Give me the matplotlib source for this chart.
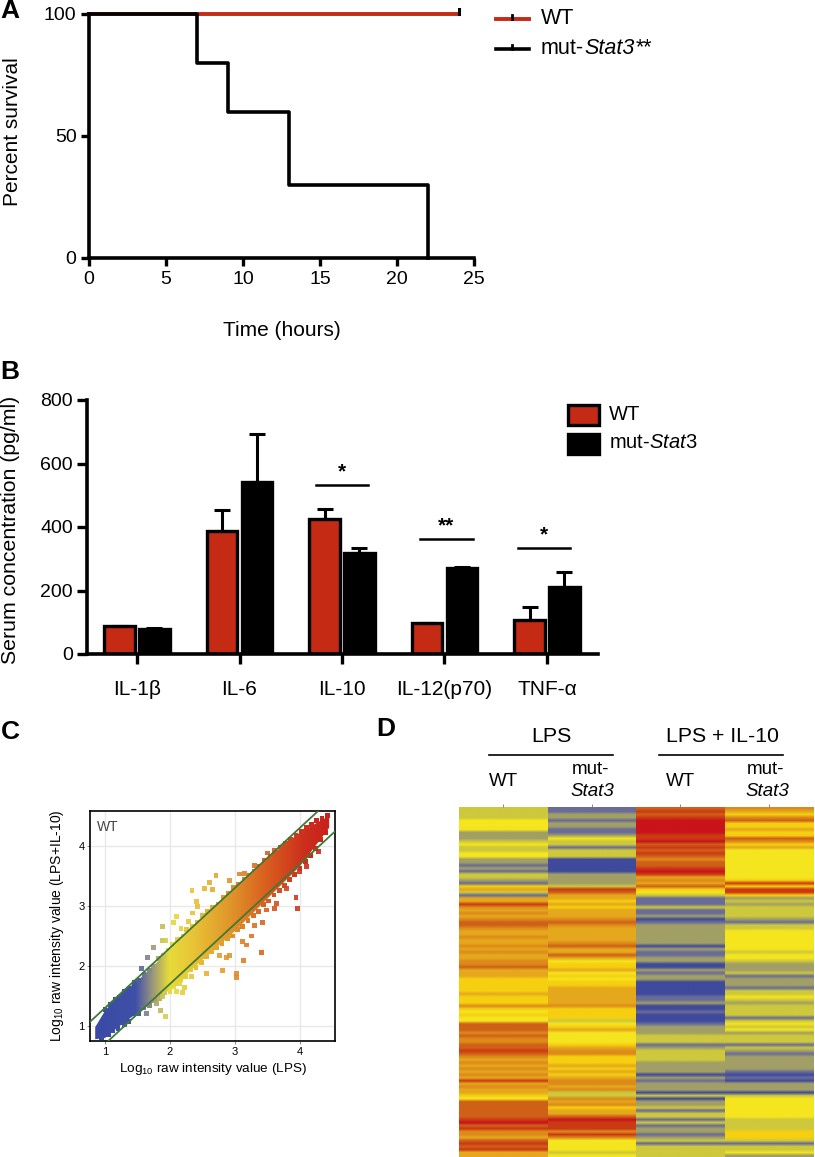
import numpy as np
import matplotlib
matplotlib.use("Agg")
import matplotlib.pyplot as plt
from matplotlib.colors import ListedColormap, LinearSegmentedColormap, Normalize
from matplotlib.patches import Polygon

plt.rcParams['font.family'] = ['Liberation Sans', 'DejaVu Sans']
plt.rcParams['mathtext.fontset'] = 'custom'
plt.rcParams['mathtext.rm'] = 'Liberation Sans'
plt.rcParams['mathtext.it'] = 'Liberation Sans:italic'
plt.rcParams['mathtext.default'] = 'regular'

W, H = 815, 1157
RED = '#c42a14'

# Panel A data
wt_time = [0, 24]
wt_surv = [100, 100]
mut_time = [0, 7, 9, 13, 22]
mut_surv = [100, 80, 60, 30, 0]

# Panel B data
cytokines = ['IL-1β', 'IL-6', 'IL-10', 'IL-12(p70)', 'TNF-α']
wt_conc = [87, 388, 426, 97, 108]
wt_err = [2, 64, 30, 2, 39]
mut_conc = [80, 543, 318, 270, 212]
mut_err = [2, 149, 17, 3, 45]
sig_pos = [2, 3.02, 3.97]
sig_height = [533, 362, 334]
sig_mark = ['*', '**', '*']

# Panel C data: edges of the dense cloud, then points on its rim, then strays
cloud_x = [0.85, 1.0, 1.2, 1.5, 2.0, 2.5, 3.0, 3.5, 4.0, 4.45]
cloud_lo = [0.78, 0.80, 0.98, 1.22, 1.60, 2.10, 2.58, 3.12, 3.66, 4.30]
cloud_hi = [0.98, 1.25, 1.50, 1.75, 2.27, 2.80, 3.30, 3.80, 4.22, 4.50]
rim_top_x = [1.0, 1.08, 1.16, 1.22, 1.3, 1.38, 1.45, 1.52, 1.6, 1.68, 1.74, 1.82, 1.9, 1.98, 2.04,
             2.12, 2.2, 2.26, 2.34, 2.42, 2.5, 2.58, 2.66, 2.74, 2.82, 2.9, 2.98, 3.06, 3.14, 3.22,
             3.3, 3.38, 3.46, 3.54, 3.62, 3.7, 3.78, 3.86, 3.94, 4.02, 4.1, 4.18, 4.26, 4.34, 4.42]
rim_top_y = [1.28, 1.36, 1.44, 1.48, 1.58, 1.62, 1.72, 1.76, 1.86, 1.92, 2.0, 2.12, 2.18, 2.26, 2.36,
             2.44, 2.5, 2.6, 2.66, 2.72, 2.84, 2.9, 2.98, 3.02, 3.14, 3.2, 3.3, 3.36, 3.44, 3.5,
             3.58, 3.66, 3.76, 3.82, 3.86, 3.98, 4.04, 4.1, 4.18, 4.24, 4.3, 4.36, 4.42, 4.46, 4.5]
rim_low_x = [0.95, 1.05, 1.12, 1.2, 1.28, 1.36, 1.44, 1.52, 1.6, 1.68, 1.76, 1.84, 1.92, 2.0, 2.08,
             2.16, 2.24, 2.32, 2.4, 2.48, 2.56, 2.64, 2.72, 2.8, 2.88, 2.96, 3.04, 3.12, 3.2, 3.28,
             3.36, 3.44, 3.52, 3.6, 3.68, 3.76, 3.84, 3.92, 4.0, 4.08, 4.16, 4.24, 4.32, 4.4]
rim_low_y = [0.8, 0.86, 0.92, 0.96, 1.06, 1.08, 1.2, 1.2, 1.3, 1.34, 1.42, 1.46, 1.56, 1.58, 1.7,
             1.78, 1.82, 1.94, 1.98, 2.06, 2.16, 2.24, 2.3, 2.38, 2.46, 2.5, 2.6, 2.66, 2.76, 2.84,
             2.9, 3.02, 3.08, 3.18, 3.26, 3.34, 3.44, 3.52, 3.62, 3.74, 3.84, 3.96, 4.1, 4.22]
stray_x = [2.71, 2.61, 2.53, 2.34, 2.66, 2.41, 2.43, 2.35, 2.10, 2.05, 1.88, 2.28, 2.17, 1.89,
           1.94, 1.75, 1.66, 1.56, 2.92, 3.07, 3.15, 3.30, 3.50, 3.61, 3.79, 1.93, 1.86, 1.79,
           2.19, 2.10, 2.23, 2.56, 2.33, 2.81, 3.03, 3.03, 3.13, 3.41, 2.87, 2.76, 2.92, 3.12,
           3.18, 3.25, 3.30, 3.42, 3.61, 3.64, 3.96, 3.94, 4.10, 4.29, 3.99, 3.79, 3.48, 2.71,
           2.56, 2.46, 2.15, 2.05, 1.89, 1.64, 1.30]
stray_y = [3.50, 3.39, 3.29, 3.26, 3.27, 3.07, 2.99, 2.88, 2.82, 2.72, 2.66, 2.74, 2.63, 2.43,
           2.43, 2.31, 2.14, 1.96, 3.42, 3.53, 3.54, 3.67, 3.88, 3.92, 4.02, 1.16, 1.26, 1.38,
           1.56, 1.57, 1.64, 1.87, 1.82, 1.93, 1.87, 1.81, 2.09, 2.22, 2.14, 2.17, 2.17, 2.41,
           2.35, 2.50, 2.67, 2.72, 2.96, 3.04, 2.96, 3.14, 3.66, 3.91, 3.57, 3.29, 2.93, 2.32,
           2.21, 2.10, 1.71, 1.66, 1.49, 1.21, 1.02]
fold_x = [0.7, 4.6]
fold_up = [1.0, 4.9]
fold_dn = [0.4, 4.3]

# Panel D data: colour level per row, blue (0) to red (10)
lps_wt = [3, 3, 3, 3, 4, 4, 4, 4, 2, 2,
          2, 3, 4, 3, 3, 4, 4, 2, 2, 1,
          2, 1, 3, 3, 2, 1, 5, 6, 3, 1,
          6, 6, 9, 7, 6, 7, 6, 7, 8, 8, 7, 6, 6, 7, 6,
          6, 7, 6, 7, 6, 6, 7, 7, 8, 6, 6, 6,
          5, 5, 5, 5, 5, 6, 5, 5, 5, 7, 5, 4, 5, 4, 4,
          8, 8, 8, 7, 8, 7, 7, 8, 8, 9, 8, 7, 6, 7, 6, 7, 6, 7, 6, 9, 6, 7, 6, 6, 5, 4,
          8, 8, 8, 8, 8, 8, 9, 10, 8, 9, 7, 7, 6, 8, 9, 8, 9, 6, 6]
lps_mut = [1, 1, 2, 2, 1, 2, 2, 1, 1, 2,
           4, 3, 3, 1, 3, 3, 3, 0, 0, 0,
           0, 0, 2, 2, 2, 2, 3, 9, 8, 6,
           6, 5, 6, 5, 6, 6, 6, 7, 8, 7, 6, 6, 6, 6, 6,
           7, 8, 6, 6, 8, 6, 4, 5, 5, 6, 4, 5,
           4, 5, 5, 6, 6, 6, 6, 6, 6, 7, 5, 5, 5, 5, 3,
           4, 5, 6, 4, 4, 4, 4, 5, 6, 7, 7, 5, 5, 5, 6, 5, 6, 5, 6, 7, 7, 6, 7, 3, 3, 7,
           6, 7, 5, 6, 6, 8, 10, 9, 9, 9, 7, 9, 7, 4, 4, 4, 4, 3, 4]
il10_wt = [8, 9, 8, 9, 10, 10, 10, 10, 10, 9,
           9, 10, 8, 9, 8, 9, 8, 7, 8, 8,
           9, 10, 9, 6, 7, 6, 8, 5, 4, 3,
           1, 1, 1, 3, 1, 1, 2, 0, 1, 2, 2, 2, 2, 2, 2,
           2, 0, 2, 1, 1, 2, 2, 0, 0, 2, 1, 2,
           2, 0, 0, 0, 0, 0, 1, 1, 2, 0, 0, 1, 0, 0, 0,
           1, 2, 2, 2, 3, 3, 3, 1, 2, 3, 3, 3, 3, 2, 2, 2, 2, 0, 2, 1, 2, 2, 2, 0, 3, 0,
           2, 2, 3, 1, 3, 3, 1, 3, 1, 2, 2, 1, 2, 3, 1, 3, 3, 3, 3]
il10_mut = [7, 6, 5, 7, 8, 5, 5, 6, 5, 5,
            8, 7, 5, 6, 4, 4, 4, 4, 4, 4,
            4, 4, 4, 4, 5, 9, 5, 9, 9, 5,
            2, 3, 2, 3, 3, 3, 3, 2, 1, 3, 3, 4, 4, 4, 4,
            4, 4, 4, 3, 4, 4, 3, 2, 2, 2, 3, 1,
            2, 2, 2, 1, 3, 3, 4, 3, 2, 3, 3, 3, 3, 1, 3,
            4, 3, 4, 2, 3, 3, 3, 1, 3, 2, 1, 2, 2, 2, 2, 2, 1, 0, 1, 0, 2, 2, 2, 0, 3, 4,
            4, 4, 4, 4, 4, 4, 3, 3, 3, 3, 5, 5, 5, 3, 1, 3, 3, 4, 2]
heat_levels = ['#3f4a9c', '#6a6c98', '#a19f66', '#cdc83c', '#f5e51e', '#f5cf10',
               '#e5a81c', '#dd8a1a', '#cf6018', '#cc3a14', '#c8141a']


def axes_px(left, top, right, bottom):
    # axes placed by pixel edges of the reference
    return fig.add_axes([left / W, 1 - bottom / H, (right - left) / W, (bottom - top) / H])


fig = plt.figure(figsize=(W / 100, H / 100), dpi=100)

# overlay in pixel coordinates for panel letters, legends and headers
ov = fig.add_axes([0, 0, 1, 1], zorder=5)
ov.set_xlim(0, W)
ov.set_ylim(H, 0)
ov.axis('off')

for letter, x, y in [('A', 0, 11), ('B', 0, 372), ('C', 1, 732), ('D', 376, 729)]:
    ov.text(x, y, letter, fontsize=19, fontweight='bold', va='center', ha='left')

# Panel A
ax = axes_px(89, 14, 474, 258)
ax.step(wt_time, wt_surv, where='post', color=RED, lw=2.8, clip_on=False)
ax.step(mut_time, mut_surv, where='post', color='black', lw=2.6, clip_on=False)
ax.plot([24, 24], [100, 102], color='black', lw=2.2, clip_on=False)
ax.set_xlim(0, 25)
ax.set_ylim(0, 100)
ax.set_xticks([0, 5, 10, 15, 20, 25])
ax.set_yticks([0, 50, 100])
ax.set_ylabel('Percent survival', fontsize=15)
ax.yaxis.set_label_coords(-0.175, 0.516)
ax.set_xlabel('Time (hours)', fontsize=15, labelpad=24)
ax.tick_params(width=2.4, length=6, labelsize=14, pad=3)
ax.spines[['top', 'right']].set_visible(False)
ax.spines[['left', 'bottom']].set_linewidth(2.6)

ov.plot([496, 529], [19, 19], color=RED, lw=2.8)
ov.plot([512, 512], [15, 19], color='black', lw=2)
ov.plot([496, 529], [49, 49], color='black', lw=2.6)
ov.plot([512, 512], [45, 49], color='black', lw=2)
ov.text(541, 18, 'WT', fontsize=15.5, va='center')
ov.text(541, 48, 'mut-', fontsize=15.5, va='center')
ov.text(584, 48, 'Stat3', fontsize=15.5, style='italic', va='center')
ov.text(636, 48, '**', fontsize=15.5, va='center')

# Panel B
ax = axes_px(87, 400, 598, 654)
pos = np.arange(len(cytokines))
err_style = dict(ecolor='black', elinewidth=2.2, capsize=5.5, capthick=2.2)
ax.bar(pos - 0.17, wt_conc, 0.3, color=RED, edgecolor='black', linewidth=2.4,
       yerr=[np.zeros(5), wt_err], error_kw=err_style)
ax.bar(pos + 0.17, mut_conc, 0.3, color='black', edgecolor='black', linewidth=2.4,
       yerr=[np.zeros(5), mut_err], error_kw=err_style)
for p, h, m in zip(sig_pos, sig_height, sig_mark):
    ax.plot([p - 0.255, p + 0.255], [h, h], color='black', lw=1.8)
    ax.text(p, h + 12, m, fontsize=15, fontweight='bold', ha='center', va='bottom')
ax.set_xlim(-0.488, 4.498)
ax.set_ylim(0, 800)
ax.set_xticks(pos, cytokines)
ax.set_yticks([0, 200, 400, 600, 800])
ax.set_ylabel('Serum concentration (pg/ml)', fontsize=15.3)
ax.yaxis.set_label_coords(-0.132, 0.49)
ax.tick_params(width=2.4, length=7, labelsize=14, pad=3)
ax.tick_params(axis='x', pad=12, labelsize=15)
ax.spines[['top', 'right']].set_visible(False)
ax.spines[['left', 'bottom']].set_linewidth(2.6)

ov.add_patch(plt.Rectangle((568, 405), 31, 20, facecolor=RED, edgecolor='black', lw=2.4))
ov.add_patch(plt.Rectangle((568, 434), 31, 20, facecolor='black', edgecolor='black', lw=2.4))
ov.text(609, 414, 'WT', fontsize=14.5, va='center')
ov.text(609, 443, r'mut-$\mathit{Stat}$3', fontsize=14.5, va='center')

# Panel C
ax = axes_px(90, 811, 335, 1041)
ax.set_xlim(0.77, 4.54)
ax.set_ylim(0.75, 4.58)
cloud_cmap = LinearSegmentedColormap.from_list('cloud', [
    (0.0, '#3a4aa5'), (0.18, '#3f50a8'), (0.24, '#8d8c86'), (0.32, '#e6dc3a'),
    (0.42, '#e8c436'), (0.58, '#e0932a'), (0.72, '#d9601f'), (0.88, '#cc2f1c'), (1.0, '#c8201c')])
cloud_norm = Normalize(0.8, 4.5)
ax.grid(color='#e9e9e9', lw=1)
ax.set_axisbelow(True)
edge = list(zip(cloud_x, cloud_hi)) + list(zip(cloud_x[::-1], cloud_lo[::-1]))
band = Polygon(edge, closed=True, facecolor='none', edgecolor='none', transform=ax.transData)
ax.add_patch(band)
grad = ax.imshow([cloud_norm(np.linspace(0.8, 4.5, 256))], cmap=cloud_cmap, vmin=0, vmax=1,
                 extent=[0.8, 4.5, 0.75, 4.58], aspect='auto', zorder=2)
grad.set_clip_path(band)
ax.set_xlim(0.77, 4.54)
ax.set_ylim(0.75, 4.58)
for px, py, alpha in [(rim_top_x, rim_top_y, 1), (rim_low_x, rim_low_y, 1), (stray_x, stray_y, 0.9)]:
    ax.scatter(px, py, marker='s', s=12, linewidths=0, alpha=alpha, zorder=2,
               c=cloud_cmap(cloud_norm(px)))
ax.plot(fold_x, fold_up, color='#3f7a35', lw=1.3, zorder=3)
ax.plot(fold_x, fold_dn, color='#3f7a35', lw=1.3, zorder=3)
ax.set_xticks([1, 2, 3, 4])
ax.set_yticks([1, 2, 3, 4])
ax.tick_params(length=2, width=0.6, color='#777777', labelsize=8, pad=2)
ax.set_xlabel(r'Log$_{10}$ raw intensity value (LPS)', fontsize=9.7, labelpad=3)
ax.set_ylabel(r'Log$_{10}$ raw intensity value (LPS+IL-10)', fontsize=10, labelpad=9)
for s in ax.spines.values():
    s.set_linewidth(1.2)
ax.text(0.03, 0.96, 'WT', transform=ax.transAxes, fontsize=10, color='#444444', va='top')

# Panel D, one image per column so the rows blend only vertically
ax = axes_px(459, 807, 813, 1157)
heat = np.array([lps_wt, lps_mut, il10_wt, il10_mut]).T
n_rows = heat.shape[0]
for c in range(heat.shape[1]):
    ax.imshow(heat[:, [c]], cmap=ListedColormap(heat_levels), vmin=0, vmax=10, aspect='auto',
              interpolation='bilinear', interpolation_stage='rgba',
              extent=[c - 0.5, c + 0.5, n_rows - 0.5, -0.5])
ax.set_xlim(-0.5, 3.5)
ax.set_ylim(n_rows - 0.5, -0.5)
ax.set_xticks([0, 1, 2, 3])
ax.set_yticks([])
ax.xaxis.tick_top()
ax.tick_params(axis='x', length=2, width=0.6, color='#a06070', labeltop=False)
for s in ax.spines.values():
    s.set_visible(False)

ov.text(551, 736, 'LPS', fontsize=15.4, ha='center', va='center')
ov.text(722, 736, 'LPS + IL-10', fontsize=15.3, ha='center', va='center')
ov.plot([489, 613], [755, 755], color='black', lw=1.2)
ov.plot([659, 783], [755, 755], color='black', lw=1.2)
for x, mut_x in [(503, 591), (680, 766)]:
    ov.text(x, 781, 'WT', fontsize=13.5, ha='center', va='center')
    ov.text(mut_x, 769, 'mut-', fontsize=13.5, ha='center', va='center')
    ov.text(mut_x + 1, 792, 'Stat3', fontsize=13.5, style='italic', ha='center', va='center')

fig.savefig('out.png', dpi=100)
